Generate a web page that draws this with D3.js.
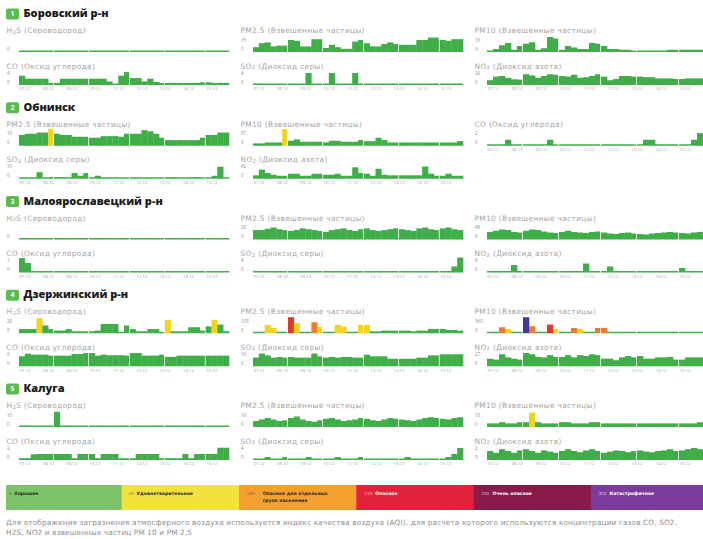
<!DOCTYPE html>
<html><head><meta charset="utf-8">
<script src="https://cdn.jsdelivr.net/npm/d3@7"></script>
<style>body{margin:0;background:#fff}svg{display:block}</style>
</head><body><svg id="c" width="703" height="539"></svg>
<script>
// ---------- DATA ----------
const days = ["07.12","08.12","09.12","10.12","11.12","12.12","13.12","14.12","15.12"];
const sectionNames = ["Боровский р-н","Обнинск","Малоярославецкий р-н","Дзержинский р-н","Калуга"];
const pollutantTitles = {H2S:"H_2S (Сероводород)",PM25:"PM2.5 (Взвешенные частицы)",PM10:"PM10 (Взвешенные частицы)",CO:"CO (Оксид углерода)",SO2:"SO_2 (Диоксид серы)",NO2:"NO_2 (Диоксид азота)"};
const legendThresholds = ["0","50","100","150","200","300"];
const legendLabels = [["Хорошее"],["Удовлетворительное"],["Опасное для отдельных","групп населения"],["Опасное"],["Очень опасное"],["Катастрофичное"]];
const footnoteLines = ["Для отображения загразнения атмосферного воздуха используется индекс качества воздуха (AQI), для расчета которого используются концентрации газов CO, SO2,","H2S, NO2 и взвешенных частиц PM 10 и PM 2,5"];

// chart order per section: row 1, row 2
const borLayout = [["H2S","PM25","PM10"],["CO","SO2","NO2"]];
const obnLayout = [["PM25","PM10","CO"],["SO2","NO2"]];
const malLayout = [["H2S","PM25","PM10"],["CO","SO2","NO2"]];
const dzeLayout = [["H2S","PM25","PM10"],["CO","SO2","NO2"]];
const kalLayout = [["H2S","PM25","PM10"],["CO","SO2","NO2"]];

// y tick maxima (0 = only "0" shown)
const borTicks = {H2S:0,PM25:15,PM10:16,CO:4,SO2:4,NO2:20};
const obnTicks = {PM25:10,PM10:87,CO:2,SO2:10,NO2:42};
const malTicks = {H2S:0,PM25:28,PM10:48,CO:1,SO2:4,NO2:8};
const dzeTicks = {H2S:20,PM25:105,PM10:360,CO:6,SO2:16,NO2:27};
const kalTicks = {H2S:10,PM25:16,PM10:10,CO:2,SO2:4,NO2:2};

// values: 9 days x 4 readings
const borH2S = [0,0,0,0,0,0,0,0,0,0,0,0,0,0,0,0,0,0,0,0,0,0,0,0,0,0,0,0,0,0,0,0,0,0,0,0];
const borPM25 = [6,11,12,7,8,8,15,14,7,7,16,16,5,9,6,4,4,13,15,11,7,7,10,12,10,9,9,9,15,15,18,18,15,14,16,16];
const borPM10 = [2,4,9,12,3,8,11,13,3,5,20,18,3,8,6,4,4,12,11,8,4,4,3,3,2,2,2,2,2,2,3,3,3,3,3,3];
const borCO = [3.1,2.1,2.1,2.1,2.1,0.7,0.7,2.1,2.1,2.1,2.1,2.1,2.1,2.1,2.1,1.2,0.4,3.1,4.3,2.3,2.3,1.2,2.1,1,0.7,0.7,0.7,0.7,0.7,0.7,0.7,0.9,0.9,0.7,0.7,0.7];
const borSO2 = [0.3,0.3,0.3,0.3,0.3,0.3,0.3,0.3,0.3,4,0.3,0.3,0.3,4,0.3,0.3,0.3,4,0.3,0.3,0.3,0.3,0.3,0.3,0.3,0.3,0.3,0.3,0.3,0.3,0.3,0.3,0.3,0.3,0.3,0.3];
const borNO2 = [8,14,15,12,9.5,9,18,16,12,15,18,17,15,14,17,12,13,15,18,14,8,10,15,15,14,14,13,13,11,11,11,10,10,11,11,11];

const obnPM25 = [9,10,10,11,11,14,10,9,9,7.5,7.5,7.5,6.7,6.7,8,8,8,7.5,10,10,10,13,12,10,6.7,4.7,4.7,4.7,4.7,4.7,4.7,6.7,9,9,11,11];
const obnPM10 = [17,17,24,24,24,121,36,46,29,29,29,29,24,36,36,29,29,29,41,33,33,58,41,24,24,24,24,24,24,24,24,24,24,24,24,34];
const obnCO = [0.2,0.2,0.2,1,0.15,0.15,0.15,0.15,0.15,0.15,1,0.1,0.1,0.1,0.1,0.1,0.1,0.1,0.1,0.1,0.1,0.1,0.1,0.1,0.1,0.1,1,1,0.1,0.1,0.1,0.1,0.1,0.1,1,2.1];
const obnSO2 = [1,1,1,5.5,0.5,1.4,1.4,1.4,0.5,4.7,2.5,4.7,1,2.5,0.5,0.5,0.5,0.5,0.5,0.5,0.5,0.5,0.5,0.5,0.5,1.4,1.4,0.5,0.5,0.5,1.4,0.5,0.5,2.5,10,0.5];
const obnNO2 = [12,32,20,14,10.5,10.5,17.5,17.5,10.5,10.5,17.5,17.5,14,14,17.5,10.5,10.5,40,20,17.5,10.5,35,14,12,12,12,12,12,12,43,17.5,10.5,10.5,17.5,10.5,10.5];

const malH2S = [0,0,0,0,0,0,0,0,0,0,0,0,0,0,0,0,0,0,0,0,0,0,0,0,0,0,0,0,0,0,0,0,0,0,0,0];
const malPM25 = [22,22,25,28,24,22,20,22,26,24,22,20,18,22,24,26,22,20,24,26,22,20,22,24,26,24,22,20,26,28,24,22,26,28,24,22];
const malPM10 = [30,35,40,38,30,28,35,40,38,32,28,26,30,35,30,28,26,30,32,28,24,22,26,28,24,22,20,24,26,28,30,28,26,24,28,30];
const malCO = [1.2,0.8,0.1,0.1,0.1,0.1,0.1,0.1,0.1,0.1,0.1,0.1,0.1,0.1,0.1,0.1,0.1,0.1,0.1,0.1,0.1,0.1,0.1,0.1,0.1,0.1,0.1,0.1,0.1,0.1,0.1,0.1,0.1,0.1,0.1,0.1];
const malSO2 = [0.2,0.2,0.2,0.2,0.2,0.2,0.2,0.2,0.2,0.2,0.2,0.2,0.2,0.2,0.2,0.2,0.2,0.2,0.2,0.2,0.2,0.2,0.2,0.2,0.2,0.2,0.2,0.2,0.2,0.2,0.2,0.2,0.2,0.2,2,5];
const malNO2 = [0.3,0.3,0.3,0.3,5,0.3,0.3,0.3,0.3,0.3,0.3,0.3,0.3,0.3,0.3,0.3,6,0.3,0.3,0.3,4,0.3,0.3,0.3,0.3,0.3,0.3,0.3,0.3,0.3,0.3,0.3,3,0.3,0.3,0.3];

const dzeH2S = [7,7,7,25,13,7,4.5,4.5,7,3.3,3.3,3.3,3.3,4.5,15.5,15.5,15.5,1.5,13,7,3.3,3.3,7,7,1.5,22,3.3,3.3,3.3,10,10,4.5,11.5,22,14.5,3.3];
const dzePM25 = [9,9,73,46,9,9,140,88,9,9,96,58,9,9,73,58,9,9,73,73,17,17,23,23,23,23,23,17,23,23,38,38,38,29,29,23];
const dzePM10 = [30,30,180,130,30,30,480,210,30,30,260,130,30,30,160,130,30,30,160,160,30,30,30,30,30,30,30,30,30,30,30,30,30,30,30,30];
const dzeCO = [5,6.3,5.8,5.8,5.8,5.3,5.3,5.3,5.3,6.1,6.1,6.6,6.6,5.3,5.8,5.5,5.5,5.5,5.3,6.6,6.6,5.3,5.3,5.3,5.8,4.7,4.7,5.3,5.3,5.3,5.3,5.3,5.3,5.3,5.3,5.3];
const dzeSO2 = [11.5,17,14.5,11.5,12.4,11.5,12.4,11.5,11.5,11.5,17,13.3,11.5,12.4,11.5,12.4,12.4,11.5,11.5,15.5,13.3,13.3,13.3,10,10,10,10,10,11.5,11.5,14.5,14.5,16,16,16,16];
const dzeNO2 = [17,15,27,20,17,15,30,27,21,20,25,21,21,25,20,25,23,27,25,17,17,13.5,20,23,20,23,17,17,20,20,21,15,15,20,20,20];

const kalH2S = [0.8,0.8,0.8,0.8,0.8,0.8,12.7,0.8,0.8,0.8,0.8,0.8,0.8,0.8,0.8,0.8,0.8,0.8,0.8,0.8,0.8,0.8,0.8,0.8,0.8,0.8,0.8,0.8,0.8,0.8,0.8,0.8,0.8,0.8,0.8,0.8];
const kalPM25 = [8,10,12,10,8,9,12,14,10,8,7,9,11,12,10,8,9,10,12,11,9,8,10,12,11,10,9,8,10,12,13,12,11,10,12,13];
const kalPM10 = [3,3,4,3,3,4,4,12,4,3,3,3,4,4,3,3,3,4,4,3,3,3,3,3,3,3,3,3,3,3,3,3,3,3,3,4];
const kalCO = [0.3,0.3,0.95,1,1,1,1,1,1,0.3,1,1,1,0.3,1,1,1,0.3,0.3,0.3,1,1,1,1,0.3,0.3,0.3,0.3,1,0.3,1,1,1,1,2.05,2.05];
const kalSO2 = [0.5,0.5,1,0.5,0.5,1,0.5,0.5,0.5,1,0.5,0.5,0.5,0.5,1,0.5,0.5,0.5,1,0.5,0.5,0.5,0.5,0.5,0.5,0.5,1,0.5,0.5,0.5,0.5,0.5,0.5,1,2,4];
const kalNO2 = [1.5,1.2,1.8,1.5,1.2,1.6,1.8,1.5,1.2,1.6,1.4,1.2,1.5,1.8,1.5,1.3,1.6,1.8,1.5,1.2,1.4,1.6,1.5,1.3,1.5,1.6,1.4,1.3,1.5,1.6,1.8,1.5,1.6,1.8,2,1.8];

// AQI level of highlighted readings: [index, level] (1 yellow, 2 orange, 3 red, 4 indigo)
const obnPM25Levels = [[5,1]];
const obnPM10Levels = [[5,1]];
const dzeH2SLevels = [[3,1],[25,1],[33,1]];
const dzePM25Levels = [[2,1],[3,1],[6,3],[7,1],[10,2],[11,1],[14,1],[15,1],[18,1],[19,1]];
const dzePM10Levels = [[2,2],[3,1],[6,4],[7,2],[10,3],[11,1],[14,2],[15,1],[18,2],[19,2]];
const kalPM10Levels = [[7,1]];

// ---------- BUILD TABLE ----------
const sectionData = [
  {layout:borLayout,ticks:borTicks,vals:{H2S:borH2S,PM25:borPM25,PM10:borPM10,CO:borCO,SO2:borSO2,NO2:borNO2},lv:{}},
  {layout:obnLayout,ticks:obnTicks,vals:{PM25:obnPM25,PM10:obnPM10,CO:obnCO,SO2:obnSO2,NO2:obnNO2},lv:{PM25:obnPM25Levels,PM10:obnPM10Levels}},
  {layout:malLayout,ticks:malTicks,vals:{H2S:malH2S,PM25:malPM25,PM10:malPM10,CO:malCO,SO2:malSO2,NO2:malNO2},lv:{}},
  {layout:dzeLayout,ticks:dzeTicks,vals:{H2S:dzeH2S,PM25:dzePM25,PM10:dzePM10,CO:dzeCO,SO2:dzeSO2,NO2:dzeNO2},lv:{H2S:dzeH2SLevels,PM25:dzePM25Levels,PM10:dzePM10Levels}},
  {layout:kalLayout,ticks:kalTicks,vals:{H2S:kalH2S,PM25:kalPM25,PM10:kalPM10,CO:kalCO,SO2:kalSO2,NO2:kalNO2},lv:{PM10:kalPM10Levels}}
];

// ---------- STYLE ----------
const barColors = ["#3fae49","#f3d41c","#ee7c2c","#e03a2c","#45379b"];
const legendColors = ["#7cc36a","#f3e13e","#f49f30","#e1223b","#8a1b48","#7b3c9b"];
const colX = [19,253,487], colW = [210,210,216];
const gapAfter = [5,11,18,24,31];
const FONT = "'Open Sans', sans-serif";
const WIDE = "'DejaVu Sans', sans-serif";

const svg = d3.select("#c");

function addTitle(g, x, y, str) {
  const t = g.append("text").attr("x",x).attr("y",y).attr("font-family",WIDE)
    .attr("font-size",7.4).attr("letter-spacing",0.35).attr("fill","#a3a3a3").attr("dominant-baseline","middle");
  const parts = str.split(/_(\d)/);
  parts.forEach((p,i)=>{
    if (i%2===1) { t.append("tspan").attr("font-size",5.3).attr("dy",1.6).text(p); }
    else if (p) { const s=t.append("tspan").text(p); if(i>0) s.attr("dy",-1.6); }
  });
}

function drawChart(col, base, titleY, key, vals, T, levels, showDates) {
  const x0 = colX[col], w = colW[col];
  const g = svg.append("g");
  addTitle(g, x0-12.5, titleY, pollutantTitles[key]);
  const x = d3.scaleBand().domain(d3.range(vals.length)).range([x0, x0+w]).padding(0);
  const y = d3.scaleLinear().domain([0, T||1]).range([base, base-12]);
  const lvMap = new Map(levels||[]);
  g.selectAll("rect").data(vals).join("rect")
    .attr("x",(d,i)=>x(i))
    .attr("width",(d,i)=>x.bandwidth() + (gapAfter.includes(i) ? -0.8 : 0.3))
    .attr("y",d=>Math.min(y(d), base-1.5))
    .attr("height",d=>base-Math.min(y(d), base-1.5))
    .attr("fill",(d,i)=>barColors[lvMap.get(i)||0]);
  const ly = d3.scaleLinear().domain([0, T||1]).range([base-2.5, base-11.5]);
  const tickVals = T ? [T,0] : [0];
  g.selectAll("text.tk").data(tickVals).join("text").attr("class","tk")
    .attr("x",x0-12).attr("y",d=>ly(d)).attr("dominant-baseline","middle")
    .attr("font-family",FONT).attr("font-size",4.5).attr("fill","#8a8a8a").text(d=>d);
  if (showDates) {
    g.selectAll("text.dt").data(days).join("text").attr("class","dt")
      .attr("x",(d,k)=>x(k*4)+6).attr("y",base+4.3).attr("text-anchor","middle")
      .attr("dominant-baseline","middle").attr("font-family",FONT).attr("font-size",4.3)
      .attr("fill","#9a9a9a").text(d=>d);
  }
}

sectionData.forEach((s, si) => {
  const hy = 14 + 93.75*si;
  svg.append("rect").attr("x",6).attr("y",hy-5.5).attr("width",13).attr("height",11).attr("rx",2)
    .attr("fill","#5dba4e");
  svg.append("text").attr("x",12.5).attr("y",hy+0.3).attr("text-anchor","middle").attr("dominant-baseline","middle")
    .attr("font-family",FONT).attr("font-weight",700).attr("font-size",7).attr("fill","#fff").text(si+1);
  svg.append("text").attr("x",23.5).attr("y",hy+0.3).attr("dominant-baseline","middle")
    .attr("font-family",FONT).attr("font-weight",800).attr("font-size",11).attr("fill","#1c1c1c").text(sectionNames[si]);
  s.layout.forEach((row, r) => {
    const titleY = hy + 17 + 35.5*r;
    const base = hy + 38 + 33*r;
    row.forEach((key, c) => {
      const lastInCol = r===1 || s.layout[1].length <= c;
      drawChart(c, base, titleY, key, s.vals[key], s.ticks[key], s.lv[key], lastInCol);
    });
  });
});

// legend
const lx = d3.scaleBand().domain(d3.range(6)).range([4.4, 708.2]).padding(0);
const numOffset = [4.5,6.5,7.5,8,7.5,7.5];
const labGap = [2.5,2.8,8,2.8,3.2,2.8];
const lg = svg.append("g");
lg.selectAll("rect").data(legendThresholds).join("rect")
  .attr("x",(d,i)=>i===0?6:lx(i)).attr("y",485)
  .attr("width",(d,i)=>lx.bandwidth()+0.5-(i===0?1.6:0)).attr("height",25)
  .attr("fill",(d,i)=>legendColors[i]);
legendThresholds.forEach((th,i)=>{
  const dark = i>=3;
  const nx = lx(i)+numOffset[i];
  const nt = lg.append("text").attr("x",nx).attr("y",494).attr("dominant-baseline","middle")
    .attr("font-family",WIDE).attr("font-size",4.3)
    .attr("fill",dark?"rgba(255,255,255,0.65)":"rgba(60,60,60,0.6)").text(th);
  const labX = nx + nt.node().getComputedTextLength() + labGap[i];
  legendLabels[i].forEach((ln,k)=>{
    lg.append("text").attr("x",labX).attr("y",494+k*7).attr("dominant-baseline","middle")
      .attr("font-family",WIDE).attr("font-size",4.6).attr("font-weight",700)
      .attr("fill",dark?"#fff":"#2a2a2a").text(ln);
  });
});

// footnote
const footLen = [671,186];
footnoteLines.forEach((ln,i)=>{
  svg.append("text").attr("x",6).attr("y",523+i*10.5).attr("dominant-baseline","middle")
    .attr("font-family",WIDE).attr("font-size",7.3).attr("fill","#8c8c8c")
    .attr("textLength",footLen[i]).attr("lengthAdjust","spacing").text(ln);
});
</script></body></html>
